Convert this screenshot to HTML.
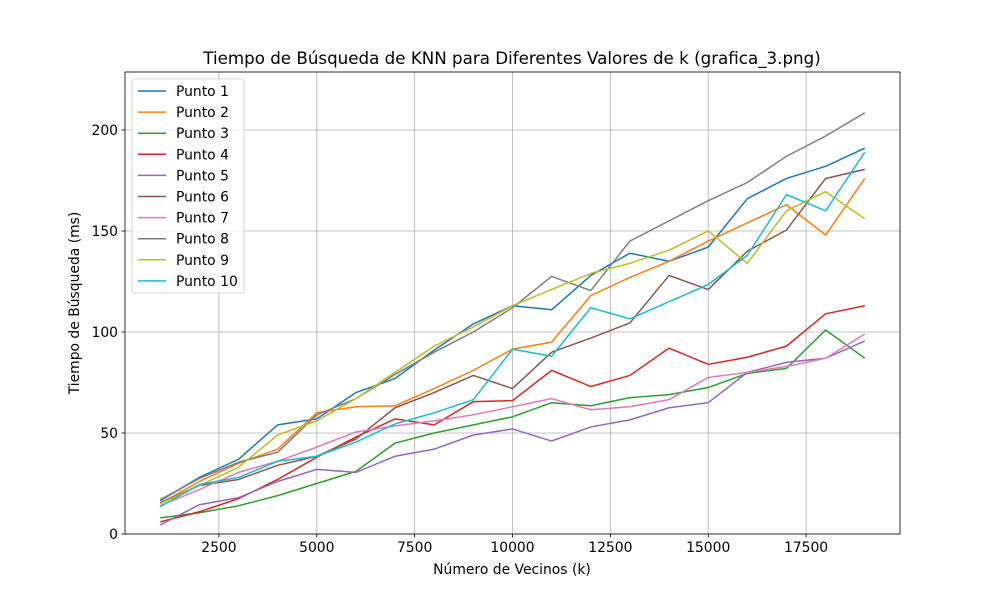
<!DOCTYPE html>
<html><head><meta charset="utf-8"><style>
body{margin:0;background:#fff;}
svg{font-family:"DejaVu Sans","Liberation Sans",sans-serif;}
</style></head><body>
<svg id="chart" width="1000" height="600" xmlns="http://www.w3.org/2000/svg">
<rect width="1000" height="600" fill="#fff"/>
<g id="grid"></g><g id="series"></g><g id="axes"></g><g id="legend"></g>
<text x="512" y="64" text-anchor="middle" font-size="16.7">Tiempo de Búsqueda de KNN para Diferentes Valores de k (grafica_3.png)</text>
<text x="512" y="574" text-anchor="middle" font-size="13.9">Número de Vecinos (k)</text>
<text transform="translate(79,303) rotate(-90)" text-anchor="middle" font-size="13.9">Tiempo de Búsqueda (ms)</text>
</svg>
<script>
const xValues=[1000,2000,3000,4000,5000,6000,7000,8000,9000,10000,11000,12000,13000,14000,15000,16000,17000,18000,19000];
const seriesNames=["Punto 1","Punto 2","Punto 3","Punto 4","Punto 5","Punto 6","Punto 7","Punto 8","Punto 9","Punto 10"];
const p1=[16.5,28,37,54,57,70,77,91,104,113,111,128,139,135,142,166,176,182,191];
const p2=[15,26,35,42,60,63,63.5,72,81,91.5,95,118,127,135,145,154,163,148,176];
const p3=[8,10.5,14,19,25,31,45,50,54,58,65,63.5,67.5,69,72.5,79.5,82,101,87];
const p4=[6,11,17.5,27,38,48,57,54,65.5,66,81,73,78.5,92,84,87.5,93,109,113];
const p5=[4.5,14.5,18,26,32,30.5,38.5,42,49,52,46,53,56.5,62.5,65,80,85,87,95.5];
const p6=[15.5,24,27,34,38.5,47,62.5,70,78.5,72,90,97,104.5,128,121,140,150.5,176,180.5];
const p7=[14,22,30.5,36,43,50.5,53.5,56,59,63,67,61.5,63,66.5,77.5,80,83,87,99];
const p8=[17,27.5,35.5,40.5,59,67,79,90,100,112,127.5,120.5,145,155,165,174,187,197,208.5];
const p9=[15,24,33,49,56,67,80,93,102.5,113,121,129,134,140.5,150,134,160,169.5,156];
const p10=[13.5,24.5,28,36,38.5,45.5,54.5,60,66.5,91.5,88,112,106.5,115,123.5,138,168,160,189];
const allSeries=[p1,p2,p3,p4,p5,p6,p7,p8,p9,p10];
const xTicks=[2500,5000,7500,10000,12500,15000,17500];
const yTicks=[0,50,100,150,200];
const colors=["#1f77b4","#ff7f0e","#2ca02c","#d62728","#9467bd","#8c564b","#e377c2","#7f7f7f","#bcbd22","#17becf"];
const L=125,R=900,T=72,B=534,XMIN=100,XMAX=19900,YMIN=0,YMAX=228.7;
const sx=v=>L+(v-XMIN)/(XMAX-XMIN)*(R-L);
const sy=v=>B-(v-YMIN)/(YMAX-YMIN)*(B-T);
const NS="http://www.w3.org/2000/svg";
function mk(t,a,p){const e=document.createElementNS(NS,t);for(const k in a)e.setAttribute(k,a[k]);p.appendChild(e);return e;}
const grid=document.getElementById('grid'),axes=document.getElementById('axes'),ser=document.getElementById('series'),leg=document.getElementById('legend');
xTicks.forEach(t=>{const x=sx(t);
 const g=mk('line',{x1:x,x2:x,y1:T,y2:B,stroke:'#b0b0b0','stroke-width':0.8},grid);
 
 
 mk('line',{x1:x,x2:x,y1:B,y2:B+3.5,stroke:'#000','stroke-width':0.8},axes);
 const tx=mk('text',{x:x,y:B+18,'text-anchor':'middle','font-size':13.9},axes);tx.textContent=t;
 
 });
yTicks.forEach(t=>{const y=sy(t);
 const g=mk('line',{x1:L,x2:R,y1:y,y2:y,stroke:'#b0b0b0','stroke-width':0.8},grid);
 
 
 mk('line',{x1:L-3.5,x2:L,y1:y,y2:y,stroke:'#000','stroke-width':0.8},axes);
 const tx=mk('text',{x:L-7,y:y+5,'text-anchor':'end','font-size':13.9},axes);tx.textContent=t;
 
 });
const frame=mk('rect',{x:L,y:T,width:R-L,height:B-T,fill:'none',stroke:'#000','stroke-width':0.8},axes);


allSeries.forEach((s,i)=>{
 const pl=mk('polyline',{points:s.map((v,j)=>sx(xValues[j])+','+sy(v)).join(' '),fill:'none',stroke:colors[i],'stroke-width':1.5,'stroke-linejoin':'round'},ser);
 
 });
const box=mk('rect',{x:132,y:79,width:112,height:214,rx:3,fill:'#fff','fill-opacity':0.8,stroke:'#ccc','stroke-width':0.8},leg);


seriesNames.forEach((n,i)=>{const y=91+i*21.1;
 const ln=mk('line',{x1:138,x2:166,y1:y,y2:y,stroke:colors[i],'stroke-width':1.5},leg);
 
 
 const tx=mk('text',{x:176,y:y+5,'font-size':13.9},leg);tx.textContent=n;
 
 });
</script>
</body></html>
